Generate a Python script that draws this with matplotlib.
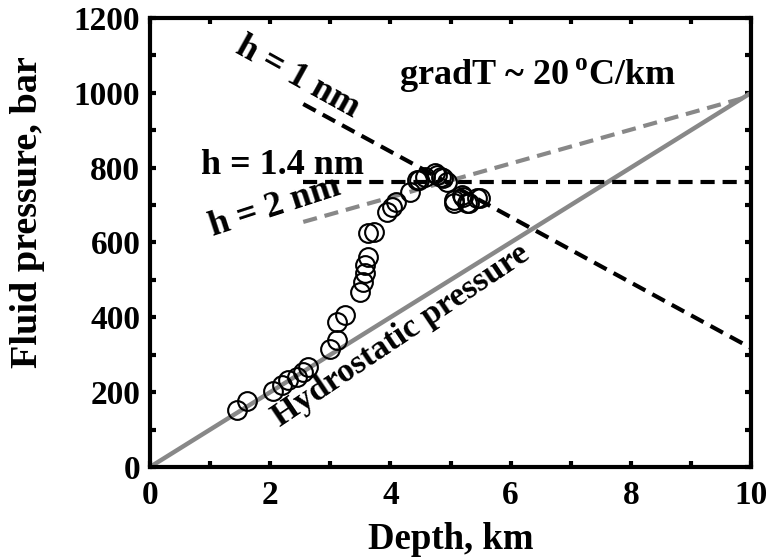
import matplotlib
matplotlib.use("Agg")
import matplotlib.pyplot as plt
import numpy as np

plt.rcParams["font.family"] = ["Liberation Serif", "DejaVu Serif"]
plt.rcParams["font.weight"] = "bold"
plt.rcParams["mathtext.fontset"] = "custom"
plt.rcParams["mathtext.rm"] = "Liberation Serif:bold"

# measured fluid pressure vs depth (circles)
depth_km = [1.44, 1.62, 2.05, 2.19, 2.30, 2.44, 2.55, 2.63, 2.99, 3.11,
            3.11, 3.24, 3.49, 3.55, 3.58, 3.58, 3.63, 3.63, 3.72, 3.94,
            4.02, 4.10, 4.33, 4.44, 4.47, 4.58, 4.74, 4.77, 4.85, 4.88,
            4.94, 5.05, 5.05, 5.19, 5.21, 5.27, 5.30, 5.44, 5.49]
pressure_bar = [152, 177, 204, 219, 233, 241, 255, 268, 315, 339,
                388, 406, 468, 495, 518, 540, 562, 625, 629, 682,
                696, 709, 736, 767, 767, 776, 785, 780, 776, 772,
                762, 714, 705, 727, 722, 705, 705, 719, 718]

# model lines
hydro_x = [0, 10]
hydro_y = [0, 1000]
h1_x = [2.55, 10]
h1_y = [970, 318]
h14_x = [2.55, 10]
h14_y = [762, 762]
h2_x = [2.55, 10]
h2_y = [655, 992]

gray = "#888888"
dash = (0, (3.4, 1.9))
fig = plt.figure(figsize=(7.83, 5.6), dpi=100)
ax = fig.add_axes([150 / 783, 1 - 467 / 560, 601 / 783, 449 / 560])

ax.plot(hydro_x, hydro_y, color=gray, lw=3.2, solid_capstyle="round", zorder=2)
ax.plot(h1_x, h1_y, color="black", lw=3, ls=dash, zorder=2)
ax.plot(h14_x, h14_y, color="black", lw=3, ls=dash, zorder=2)
ax.plot(h2_x, h2_y, color=gray, lw=3, ls=dash, zorder=2)
ax.plot(depth_km, pressure_bar, ls="none", marker="o", ms=13.5,
        mfc="none", mec="black", mew=1.5, zorder=3)

txt = dict(fontsize=26, fontweight="bold", ha="center", va="center")
ax.text(2.45, 1040, "h = 1 nm", rotation=-29, **txt)
ax.text(6.45, 1046, "gradT ~ 20$\\,^{\\rm o}$C/km", **txt)
ax.text(2.2, 807, "h = 1.4 nm", **txt)
ax.text(2.08, 694, "h = 2 nm", rotation=18, **txt)
ax.text(4.18, 352, "Hydrostatic pressure", rotation=34,
        **{**txt, "fontsize": 24.5})

ax.set_xlim(0, 10)
ax.set_ylim(0, 1200)
ax.set_xticks(np.arange(0, 11, 2))
ax.set_xticks(np.arange(0, 11, 1), minor=True)
ax.set_yticks(np.arange(0, 1201, 200))
ax.set_yticks(np.arange(0, 1201, 100), minor=True)
ax.tick_params(which="both", direction="in", top=True, right=True,
               length=4, width=3, labelsize=24)
ax.tick_params(axis="x", pad=9)
ax.tick_params(axis="y", pad=7)
for lab in ax.get_xticklabels() + ax.get_yticklabels():
    lab.set_fontweight("bold")
for sp in ax.spines.values():
    sp.set_linewidth(3)

ax.set_xlabel("Depth, km", fontsize=26.5, fontweight="bold", labelpad=8)
ax.set_ylabel("Fluid pressure, bar", fontsize=27.5, fontweight="bold")
ax.yaxis.set_label_coords(-0.175, 0.567)

fig.savefig("out.png", dpi=100)
